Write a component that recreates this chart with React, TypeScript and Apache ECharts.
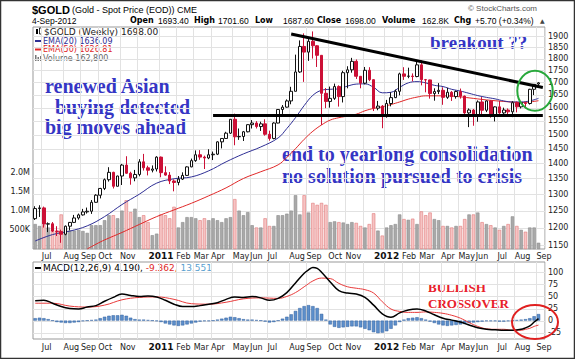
import React, { useEffect, useRef } from "react";
import * as echarts from "echarts";

// Weekly bars; Monday of the first week shown
const firstWeek = "2010-06-14";

const opens = [
  1226, 1256, 1258, 1210, 1211, 1190, 1189, 1181, 1204, 1215,
  1228, 1237, 1246, 1248, 1275, 1297, 1318, 1346, 1370, 1325,
  1358, 1394, 1367, 1352, 1363, 1405, 1385, 1377, 1381, 1421,
  1369, 1361, 1342, 1337, 1348, 1360, 1388, 1409, 1429, 1421,
  1418, 1429, 1431, 1474, 1486, 1505, 1556, 1492, 1493, 1510,
  1536, 1542, 1529, 1539, 1501, 1486, 1542, 1593, 1602, 1626,
  1664, 1743, 1853, 1828, 1876, 1856, 1814, 1656, 1624, 1636,
  1683, 1643, 1740, 1752, 1788, 1725, 1697, 1750, 1711, 1598,
  1606, 1566, 1616, 1639, 1664, 1735, 1725, 1726, 1724, 1773,
  1711, 1710, 1655, 1663, 1668, 1640, 1660, 1643, 1663, 1645,
  1580, 1591, 1572, 1622, 1590, 1626, 1572, 1603, 1580, 1591,
  1584, 1619, 1603, 1619, 1616, 1672, 1693.4,
];
const highs = [
  1263, 1266, 1262, 1215, 1216, 1204, 1194, 1206, 1216, 1237,
  1241, 1255, 1259, 1282, 1300, 1320, 1350, 1387, 1372, 1359,
  1398, 1424, 1372, 1378, 1414, 1432, 1392, 1393, 1424, 1423,
  1390, 1371, 1347, 1358, 1370, 1390, 1416, 1444, 1445, 1426,
  1448, 1440, 1476, 1487, 1510, 1557, 1577, 1522, 1513, 1537,
  1553, 1549, 1547, 1556, 1514, 1545, 1594, 1610, 1632, 1682,
  1817, 1880, 1912, 1889, 1921, 1859, 1815, 1677, 1683, 1695,
  1688, 1748, 1767, 1803, 1796, 1726, 1764, 1763, 1713, 1626,
  1610, 1630, 1660, 1671, 1740, 1763, 1761, 1737, 1790, 1792,
  1714, 1711, 1676, 1697, 1680, 1678, 1665, 1667, 1675, 1647,
  1597, 1595, 1628, 1641, 1628, 1628, 1605, 1626, 1600, 1597,
  1625, 1624, 1626, 1624, 1674, 1693, 1701.6,
];
const lows = [
  1222, 1231, 1200, 1187, 1187, 1176, 1157, 1178, 1192, 1213,
  1223, 1235, 1241, 1240, 1274, 1287, 1313, 1340, 1318, 1325,
  1329, 1365, 1330, 1341, 1357, 1376, 1360, 1370, 1373, 1354,
  1359, 1332, 1309, 1328, 1345, 1358, 1387, 1405, 1412, 1381,
  1414, 1411, 1428, 1451, 1485, 1502, 1462, 1481, 1477, 1508,
  1522, 1522, 1513, 1496, 1478, 1483, 1541, 1576, 1600, 1613,
  1664, 1739, 1702, 1790, 1800, 1764, 1535, 1598, 1600, 1630,
  1604, 1620, 1676, 1740, 1714, 1676, 1692, 1705, 1587, 1590,
  1523, 1562, 1605, 1637, 1648, 1710, 1717, 1704, 1721, 1688,
  1660, 1635, 1627, 1653, 1611, 1634, 1626, 1635, 1635, 1576,
  1527, 1532, 1547, 1567, 1583, 1562, 1548, 1576, 1566, 1569,
  1564, 1582, 1597, 1597, 1612, 1649, 1687.6,
];
const closes = [
  1256, 1258, 1210, 1211, 1190, 1189, 1181, 1204, 1215, 1228,
  1237, 1246, 1248, 1275, 1297, 1318, 1346, 1370, 1325, 1358,
  1394, 1367, 1352, 1363, 1405, 1385, 1377, 1381, 1421, 1369,
  1361, 1342, 1337, 1348, 1360, 1388, 1409, 1429, 1421, 1418,
  1429, 1431, 1474, 1486, 1505, 1556, 1492, 1493, 1510, 1536,
  1542, 1529, 1539, 1501, 1486, 1542, 1593, 1602, 1626, 1664,
  1743, 1853, 1828, 1876, 1856, 1814, 1656, 1624, 1636, 1683,
  1643, 1740, 1752, 1788, 1725, 1697, 1750, 1711, 1598, 1606,
  1566, 1616, 1639, 1664, 1735, 1725, 1726, 1724, 1773, 1711,
  1710, 1655, 1663, 1668, 1640, 1660, 1643, 1663, 1645, 1580,
  1591, 1572, 1622, 1590, 1626, 1572, 1603, 1580, 1591, 1584,
  1619, 1603, 1619, 1616, 1672, 1692, 1698,
];
const volumes = [
  650e3, 600e3, 620e3, 560e3, 500e3, 450e3, 900e3, 550e3, 480e3, 480e3,
  500e3, 470e3, 420e3, 620e3, 620e3, 620e3, 750e3, 880e3, 880e3, 800e3,
  1000e3, 1270e3, 960e3, 1050e3, 830e3, 880e3, 700e3, 360e3, 400e3, 900e3,
  880e3, 800e3, 1100e3, 560e3, 700e3, 830e3, 830e3, 800e3, 750e3, 800e3,
  750e3, 800e3, 750e3, 700e3, 800e3, 830e3, 1300e3, 1000e3, 880e3, 960e3,
  620e3, 560e3, 560e3, 800e3, 600e3, 600e3, 880e3, 880e3, 920e3, 1000e3,
  1400e3, 900e3, 1400e3, 950e3, 1200e3, 1150e3, 1200e3, 1150e3, 700e3, 720e3,
  700e3, 690e3, 650e3, 700e3, 680e3, 600e3, 560e3, 650e3, 930e3, 480e3,
  350e3, 560e3, 620e3, 650e3, 900e3, 780e3, 760e3, 790e3, 650e3, 980e3,
  880e3, 950e3, 780e3, 750e3, 600e3, 600e3, 560e3, 600e3, 600e3, 780e3,
  900e3, 900e3, 950e3, 700e3, 650e3, 620e3, 560e3, 500e3, 600e3, 650e3,
  850e3, 600e3, 500e3, 450e3, 560e3, 560e3, 162800,
];

const ema20Weeks = [0, 4, 8, 12, 16, 20, 24, 28, 32, 36, 40, 44, 48, 52, 56, 58, 60, 62, 64, 66, 68, 70, 72, 74, 76, 78, 80, 82, 84, 86, 88, 90, 92, 94, 96, 98, 100, 102, 104, 106, 108, 110, 112, 114, 116];
const ema20Values = [1162, 1180, 1190, 1205, 1232, 1268, 1300, 1335, 1349, 1355, 1375, 1405, 1432, 1456, 1488, 1522, 1562, 1608, 1648, 1668, 1672, 1674, 1685, 1693, 1694, 1680, 1658, 1660, 1680, 1698, 1703, 1698, 1688, 1683, 1672, 1665, 1656, 1647, 1640, 1634, 1626, 1622, 1622, 1626, 1636.09];
const ema50Weeks = [12, 14, 16, 20, 24, 28, 32, 36, 40, 44, 48, 52, 56, 58, 60, 62, 64, 66, 68, 70, 72, 74, 76, 78, 80, 82, 84, 86, 88, 90, 92, 94, 96, 98, 100, 104, 108, 112, 116];
const ema50Values = [1140, 1153, 1165, 1186, 1209, 1232, 1252, 1272, 1295, 1320, 1350, 1372, 1395, 1420, 1450, 1483, 1512, 1535, 1553, 1562, 1568, 1575, 1588, 1597, 1603, 1612, 1622, 1633, 1641, 1646, 1646, 1646, 1645, 1642, 1638, 1630, 1624, 1620, 1626.81];

const macdWeeks = [0, 2, 4, 6, 8, 10, 12, 14, 16, 18, 20, 22, 24, 26, 28, 30, 32, 34, 36, 38, 40, 42, 44, 46, 48, 50, 52, 54, 56, 58, 60, 62, 63, 64, 65, 66, 68, 70, 72, 74, 76, 78, 80, 82, 84, 86, 88, 90, 92, 94, 96, 98, 100, 102, 104, 106, 108, 110, 112, 113, 114, 115, 116];
const macdValues = [41, 42, 36, 29, 25, 24, 28, 31, 40, 48, 55, 52, 50, 51, 49, 42, 34, 29, 29, 31, 34, 37, 44, 49, 48, 50, 47, 42, 46, 58, 78, 98, 105, 110, 108, 100, 80, 62, 57, 55, 48, 32, 14, 7, 16, 22, 24, 20, 12, 5, 1, -3, -9, -15, -18, -19, -20, -20, -18, -15, -11, -3, 4.19];
const signalWeeks = [0, 4, 8, 12, 16, 20, 24, 28, 32, 36, 40, 44, 48, 52, 56, 58, 60, 62, 64, 66, 68, 70, 72, 74, 76, 78, 80, 82, 84, 86, 88, 90, 92, 94, 96, 98, 100, 102, 104, 106, 108, 110, 112, 113, 114, 115, 116];
const signalValues = [36, 36, 30, 28, 32, 43, 48, 49, 44, 35, 34, 38, 45, 47, 46, 50, 58, 70, 82, 88, 87, 77, 70, 67, 64, 57, 39, 24, 19, 17, 17, 18, 17, 15, 11, 5, -4, -12, -17, -18, -18, -20, -20, -18, -16, -12, -9.362];
const histValues = [
  5, 6, 5, 3, 0, -3, -4, -5, -5, -4,
  -3, -1, 0, 1, 2, 5, 8, 10, 11, 11,
  12, 10, 6, 3, 2, 2, 1, 0, -1, -3,
  -6, -8, -10, -11, -10, -8, -6, -4, -2, -1,
  -1, 0, 2, 4, 6, 8, 7, 5, 3, 2,
  2, 1, 0, -2, -4, -3, 0, 4, 8, 13,
  20, 26, 30, 32, 30, 26, 14, 2, -8, -13,
  -15, -14, -13, -12, -12, -14, -17, -20, -24, -26,
  -25, -22, -17, -10, -3, 2, 5, 6, 7, 5,
  2, -2, -5, -8, -10, -11, -10, -9, -8, -7,
  -5, -4, -3, -2, -1, -1, -1, -2, -2, -1,
  0, 1, 2, 3, 5, 9, 13.551,
];

// hand-drawn annotation lines (week index, price)
const resistanceWeeks = [59, 117];
const resistancePrices = [1909, 1679];
const supportWeeks = [41, 117];
const supportPrices = [1570, 1570];

const priceTicks = [1150, 1200, 1250, 1300, 1350, 1400, 1450, 1500, 1550, 1600, 1650, 1700, 1750, 1800, 1850, 1900];
const volumeTicks = [500000, 1000000, 1500000, 2000000];
const macdTicks = [-25, 0, 25, 50, 75, 100];
const monthNames = ["Jan", "Feb", "Mar", "Apr", "May", "Jun", "Jul", "Aug", "Sep", "Oct", "Nov", "Dec"];

const DAY = 86400000;
const startMs = Date.parse(firstWeek + "T00:00:00Z");
const categories = closes.map((_, i) => new Date(startMs + i * 7 * DAY).toISOString().slice(0, 10));
const fridays = closes.map((_, i) => new Date(startMs + (i * 7 + 4) * DAY));
const monthStart = fridays.map((d, i) => i > 0 && d.getUTCMonth() !== fridays[i - 1].getUTCMonth());

const LOG_MIN = Math.log(1139.9);
const LOG_MAX = Math.log(1941.5);
const SANS = "DejaVu Sans";
const ARIAL = '"Liberation Sans"';
const BLUE_TXT = "#3535c4";

function makeMonthX(gridIndex: number, margin: number) {
  return {
    type: "category",
    gridIndex,
    position: "bottom",
    data: categories,
    max: closes.length,
    boundaryGap: true,
    axisLine: { show: false },
    axisTick: { show: false },
    axisLabel: {
      interval: 0,
      margin,
      align: "left",
      padding: [0, 0, 0, -2],
      fontSize: 8,
      fontFamily: SANS,
      color: "#222",
      formatter: (_v: string, i: number) => {
        if (!monthStart[i]) return "";
        const m = fridays[i].getUTCMonth();
        return m === 0 || m === 11 ? "" : monthNames[m];
      },
    },
    splitLine: { show: true, interval: (i: number) => !!monthStart[i], lineStyle: { color: "#e2e2e2", width: 1 } },
  };
}

function makeYearX(gridIndex: number, margin: number) {
  return {
    type: "category",
    gridIndex,
    position: "bottom",
    offset: 0,
    data: categories,
    max: closes.length,
    boundaryGap: true,
    axisLine: { show: false },
    axisTick: { show: false },
    splitLine: { show: false },
    axisLabel: {
      interval: 0,
      margin: margin - 0.5,
      align: "center",
      fontSize: 9,
      fontWeight: "bold",
      fontFamily: SANS,
      color: "#111",
      formatter: (_v: string, i: number) =>
        monthStart[i] && fridays[i].getUTCMonth() === 0 ? String(fridays[i].getUTCFullYear()) : "",
    },
  };
}

function gridLineSeries(xi: number, yi: number, values: number[]) {
  return {
    type: "custom",
    xAxisIndex: xi,
    yAxisIndex: yi,
    silent: true,
    z: 1,
    data: values.map((v) => [0, v]),
    encode: { x: 0, y: 1 },
    renderItem: (params: any, api: any) => {
      const cs = params.coordSys;
      const y = Math.round(api.coord([0, api.value(1)])[1]) + 0.5;
      return {
        type: "line",
        shape: { x1: cs.x, y1: y, x2: cs.x + cs.width, y2: y },
        style: { stroke: "#e2e2e2", lineWidth: 1 },
      };
    },
  };
}

function txt(text: string, x: number, y: number, font: string, fill: string, extra: any = {}) {
  return {
    type: "text",
    x,
    y,
    silent: true,
    style: { text, font, fill, align: "left", verticalAlign: "middle", textAlign: "left", textVerticalAlign: "middle", ...extra },
  };
}

export default function App() {
  const ref = useRef<HTMLDivElement>(null);
  useEffect(() => {
    document.body.style.margin = "0";
    if (!ref.current) return;
    const chart = echarts.init(ref.current, undefined, { renderer: "svg" });
    const down = (i: number) => closes[i] < (i === 0 ? opens[0] : closes[i - 1]);

    const VAL = `8.5px ${ARIAL}`;
    const KEY = `bold 8px "${SANS}"`;
    const header = [
      txt("$GOLD", 32, 9.5, `bold 11px ${ARIAL}`, "#000"),
      txt("(Gold - Spot Price (EOD)) CME", 72, 9.5, `9px ${ARIAL}`, "#000"),
      txt("© StockCharts.com", 468, 8.5, `8px ${ARIAL}`, "#555"),
      txt("4-Sep-2012", 32, 20.5, VAL, "#000"),
      txt("Open", 130, 20.5, KEY, "#000"),
      txt("1693.40", 158, 20.5, VAL, "#000"),
      txt("High", 194, 20.5, KEY, "#000"),
      txt("1701.60", 218, 20.5, VAL, "#000"),
      txt("Low", 255, 20.5, KEY, "#000"),
      txt("1687.60", 283, 20.5, VAL, "#000"),
      txt("Close", 317, 20.5, KEY, "#000"),
      txt("1698.00", 345, 20.5, VAL, "#000"),
      txt("Volume", 382, 20.5, KEY, "#000"),
      txt("162.8K", 422, 20.5, VAL, "#000"),
      txt("Chg", 454, 20.5, KEY, "#000"),
      txt("+5.70 (+0.34%)", 475, 20.5, VAL, "#000"),
      txt("▲", 540, 20.5, `6px "${SANS}"`, "#444"),
    ];
    const legend = [
      { type: "rect", shape: { x: 36, y: 29, width: 2, height: 5 }, style: { fill: "#000" }, silent: true },
      { type: "rect", shape: { x: 39.5, y: 28, width: 2, height: 6 }, style: { fill: "#fff", stroke: "#000", lineWidth: 0.8 }, silent: true },
      txt("$GOLD (Weekly) 1698.00", 44, 32, `9px "${SANS}"`, "#222"),
      { type: "line", shape: { x1: 35, y1: 41, x2: 42, y2: 41 }, style: { stroke: "#2e2e94", lineWidth: 2 }, silent: true },
      txt("EMA(20) 1636.09", 43, 41, `8px "${SANS}"`, "#2e2e94"),
      { type: "line", shape: { x1: 35, y1: 49.5, x2: 42, y2: 49.5 }, style: { stroke: "#e02828", lineWidth: 2 }, silent: true },
      txt("EMA(50) 1626.81", 43, 49.5, `8px "${SANS}"`, "#e02828"),
      { type: "rect", shape: { x: 35, y: 55, width: 1.5, height: 6 }, style: { fill: "#777" }, silent: true },
      { type: "rect", shape: { x: 37.5, y: 57, width: 1.5, height: 4 }, style: { fill: "#777" }, silent: true },
      { type: "rect", shape: { x: 40, y: 56, width: 1.5, height: 5 }, style: { fill: "#777" }, silent: true },
      txt("Volume 162,800", 43, 58, `8px "${SANS}"`, "#666"),
      { type: "line", shape: { x1: 35, y1: 268, x2: 42, y2: 268 }, style: { stroke: "#000", lineWidth: 2 }, silent: true },
      txt("{k|MACD(12,26,9) 4.190,} {r|-9.362,} {b|13.551}", 43, 268, `9px "${SANS}"`, "#000", {
        rich: {
          k: { fill: "#000", font: `9px "${SANS}"` },
          r: { fill: "#e02828", font: `9px "${SANS}"` },
          b: { fill: "#5a9fd0", font: `9px "${SANS}"` },
        },
      }),
    ];
    const SERIF = '"Liberation Serif"';
    const notes = [
      txt("renewed Asian", 45, 86, `bold 20px ${SERIF}`, BLUE_TXT),
      txt("buying detected", 55, 106.5, `bold 20px ${SERIF}`, BLUE_TXT),
      txt("big moves ahead", 45, 127, `bold 20px ${SERIF}`, BLUE_TXT),
      txt("breakout ??", 430, 42.5, `bold 19px ${SERIF}`, BLUE_TXT),
      txt("end to yearlong consolidation", 282, 154, `bold 20px ${SERIF}`, BLUE_TXT),
      txt("no solution pursued to crisis", 282, 175.5, `bold 20px ${SERIF}`, BLUE_TXT),
      txt("BULLISH", 428, 287, `bold 13px ${SERIF}`, "#e8202a"),
      txt("CROSSOVER", 428, 303, `bold 13px ${SERIF}`, "#e8202a"),
      { type: "ellipse", shape: { cx: 535, cy: 90.7, rx: 17.7, ry: 20 }, style: { fill: "none", stroke: "#27a83a", lineWidth: 2 }, silent: true, z: 100 },
      { type: "ellipse", shape: { cx: 535, cy: 322, rx: 23, ry: 17 }, style: { fill: "none", stroke: "#e02020", lineWidth: 2 }, silent: true, z: 100 },
      { type: "rect", shape: { x: 0.5, y: 0.5, width: 574, height: 358 }, style: { fill: "none", stroke: "#333", lineWidth: 1.5 }, silent: true },
    ];

    const option: any = {
      animation: false,
      backgroundColor: "#fff",
      textStyle: { fontFamily: SANS },
      grid: [
        { left: 33, top: 27, width: 512, height: 222, show: true, borderColor: "#999", borderWidth: 1, backgroundColor: "transparent" },
        { left: 33, top: 262, width: 512, height: 77, show: true, borderColor: "#999", borderWidth: 1, backgroundColor: "transparent" },
      ],
      xAxis: [makeMonthX(0, 3), makeMonthX(1, 4), makeYearX(0, 3), makeYearX(1, 4)],
      yAxis: [
        {
          type: "value",
          gridIndex: 0,
          position: "right",
          min: LOG_MIN,
          max: LOG_MAX,
          axisLine: { show: false },
          axisTick: { show: false },
          splitLine: { show: false },
          axisLabel: {
            customValues: priceTicks.map((v) => Math.log(v)),
            formatter: (v: number) => String(Math.round(Math.exp(v))),
            margin: 3,
            fontSize: 8,
            fontFamily: SANS,
            color: "#222",
          },
        },
        {
          type: "value",
          gridIndex: 0,
          position: "left",
          min: 0,
          max: 5780000,
          axisLine: { show: false },
          axisTick: { show: false },
          splitLine: { show: false },
          axisLabel: {
            customValues: volumeTicks,
            formatter: (v: number) => (v >= 1e6 ? (v / 1e6).toFixed(1) + "M" : Math.round(v / 1e3) + "K"),
            margin: 3,
            fontSize: 8,
            fontFamily: SANS,
            color: "#222",
          },
        },
        {
          type: "value",
          gridIndex: 1,
          position: "right",
          min: -38.1,
          max: 121.3,
          axisLine: { show: false },
          axisTick: { show: false },
          splitLine: { show: false },
          axisLabel: {
            customValues: macdTicks,
            margin: 3,
            fontSize: 8,
            fontFamily: SANS,
            color: "#222",
          },
        },
      ],
      series: [
        gridLineSeries(0, 0, priceTicks.map((v) => Math.log(v))),
        {
          type: "bar",
          xAxisIndex: 0,
          yAxisIndex: 1,
          z: 2,
          barWidth: "78%",
          data: volumes.map((v, i) => ({
            value: v,
            itemStyle: down(i)
              ? { color: "#f6c4c4", borderColor: "#e07a7a", borderWidth: 0.6 }
              : { color: "#a9a9a9", borderColor: "#8c8c8c", borderWidth: 0.6 },
          })),
        },
        {
          type: "line",
          xAxisIndex: 0,
          yAxisIndex: 0,
          z: 3,
          symbol: "none",
          smooth: 0.4,
          lineStyle: { color: "#e02828", width: 1 },
          data: ema50Weeks.map((w, k) => [w, Math.log(ema50Values[k])]),
        },
        {
          type: "line",
          xAxisIndex: 0,
          yAxisIndex: 0,
          z: 3,
          symbol: "none",
          smooth: 0.4,
          lineStyle: { color: "#2e2e94", width: 1 },
          data: ema20Weeks.map((w, k) => [w, Math.log(ema20Values[k])]),
        },
        {
          type: "candlestick",
          xAxisIndex: 0,
          yAxisIndex: 0,
          z: 4,
          barWidth: "70%",
          itemStyle: { color: "#ffffff", color0: "#cc1036", borderColor: "#111", borderColor0: "#cc1036", borderWidth: 1 },
          data: closes.map((c, i) => [Math.log(opens[i]), Math.log(c), Math.log(lows[i]), Math.log(highs[i])]),
        },
        {
          type: "line",
          xAxisIndex: 0,
          yAxisIndex: 0,
          z: 6,
          symbol: "none",
          silent: true,
          clip: false,
          lineStyle: { color: "#000", width: 3 },
          data: resistanceWeeks.map((w, k) => [w, Math.log(resistancePrices[k])]),
        },
        {
          type: "line",
          xAxisIndex: 0,
          yAxisIndex: 0,
          z: 6,
          symbol: "none",
          silent: true,
          clip: false,
          lineStyle: { color: "#000", width: 3 },
          data: supportWeeks.map((w, k) => [w, Math.log(supportPrices[k])]),
        },
        gridLineSeries(1, 2, macdTicks),
        {
          type: "bar",
          xAxisIndex: 1,
          yAxisIndex: 2,
          z: 2,
          barWidth: "78%",
          itemStyle: { color: "#5d8fcb", borderColor: "#2f5f9e", borderWidth: 0.5 },
          data: histValues,
        },
        {
          type: "line",
          xAxisIndex: 1,
          yAxisIndex: 2,
          z: 3,
          symbol: "none",
          smooth: 0.4,
          lineStyle: { color: "#e83a3a", width: 1 },
          data: signalWeeks.map((w, k) => [w, signalValues[k]]),
        },
        {
          type: "line",
          xAxisIndex: 1,
          yAxisIndex: 2,
          z: 4,
          symbol: "none",
          smooth: 0.4,
          lineStyle: { color: "#000", width: 1.5 },
          data: macdWeeks.map((w, k) => [w, macdValues[k]]),
        },
      ],
      graphic: { elements: [...header, ...legend, ...notes] },
    };
    chart.setOption(option);
    return () => chart.dispose();
  }, []);
  return <div ref={ref} style={{ width: 575, height: 359, position: "relative" }} />;
}
